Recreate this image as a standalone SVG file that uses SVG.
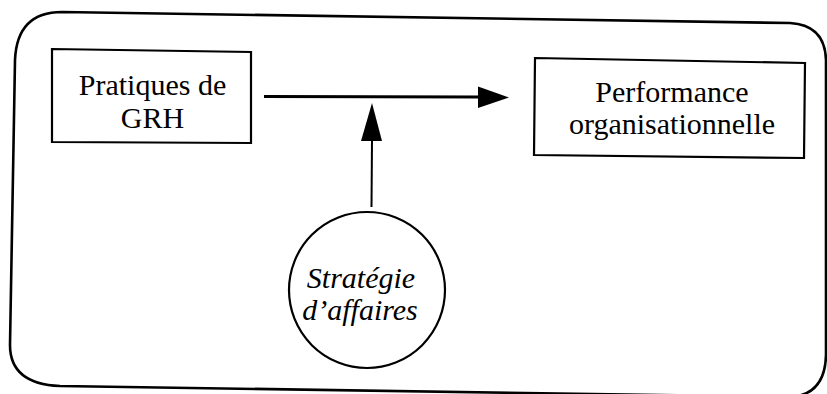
<svg xmlns="http://www.w3.org/2000/svg" width="827" height="394" viewBox="0 0 827 394">
<defs>
<style>
.box{fill:#fff;stroke:#000;stroke-width:2.2}
.t{font-family:"Liberation Serif","Times New Roman",serif;font-size:30px;fill:#000;text-anchor:middle}
.i{font-style:italic}
.ln{stroke:#000;fill:none}
</style>
</defs>
<rect width="827" height="394" fill="#fff"/>
<g id="frame">
<path class="ln" stroke-width="2.6" d="M62,12 L790,23 Q825,25 826,60 L826,355 Q825,395 790,397 L60,386 Q10,384 10,345 L15,60 Q17,12 62,12 Z"/>
</g>
<g id="connectors">
<line class="ln" x1="264" y1="96.5" x2="480" y2="97" stroke-width="2.8"/>
<polygon points="478,86.5 509,97.5 478,108" fill="#000"/>
<line class="ln" x1="371.5" y1="207" x2="372" y2="140" stroke-width="2"/>
<polygon points="361,141 372,103 382,141" fill="#000"/>
</g>
<g id="pratiques">
<path class="box" d="M52,49 L251,52 L251,143 L52,142 Z"/>
<text class="t" x="152.5" y="95">Pratiques de</text>
<text class="t" x="152.5" y="128">GRH</text>
</g>
<g id="performance">
<path class="box" d="M535,58 L805,63 L804,158 L534,155 Z"/>
<text class="t" x="672" y="102">Performance</text>
<text class="t" x="672" y="134">organisationnelle</text>
</g>
<g id="strategie">
<circle class="box" cx="367" cy="290" r="78"/>
<text class="t i" x="361" y="288">Stratégie</text>
<text class="t i" x="360" y="320">d’affaires</text>
</g>
</svg>
